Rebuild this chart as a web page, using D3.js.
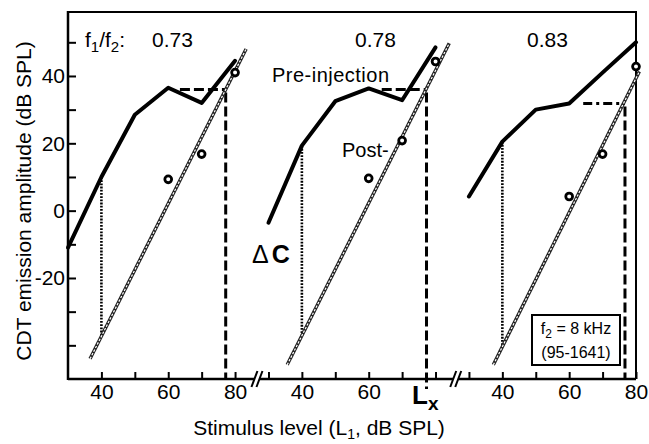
<!DOCTYPE html>
<html><head><meta charset="utf-8">
<script src="https://cdn.jsdelivr.net/npm/d3@7/dist/d3.min.js"></script>
<style>
html,body{margin:0;padding:0;background:#fff;}
svg{display:block;font-family:"Liberation Sans",Arial,Helvetica,sans-serif;}
</style></head>
<body><svg id="chart" width="649" height="444"></svg>
<script>
// ---- data ----
const ratioLabels = ["0.73", "0.78", "0.83"];
const stimulusLevels = [30, 40, 50, 60, 70, 80];
const preInjection1 = [-11, 10, 28.5, 36.5, 32, 44.5];
const preInjection2 = [-3.6, 19.3, 32.5, 36.3, 32.8, 48.5];
const preInjection3 = [4.2, 20.5, 30, 31.8, 41, 50];
const postLevels = [60, 70, 80];
const postInjection1 = [9.3, 16.8, 41];
const postInjection2 = [9.6, 20.8, 44.3];
const postInjection3 = [4.2, 16.8, 42.8];
const fitX1 = [36.6, 83.3], fitY1 = [-44, 48];
const fitX2 = [35.6, 84.1], fitY2 = [-45.8, 49.7];
const fitX3 = [37.3, 81], fitY3 = [-45.8, 41.3];
const deltaCLevel = 40;
const criterionLevels = [36, 36, 31.8];
const criterionStart = [63.5, 63.9, 64.2];
const lxValues = [77.2, 77.3, 76.7];
const yTickValues = [-40, -30, -20, -10, 0, 10, 20, 30, 40, 50];
const yTickLabels = [-20, 0, 20, 40];
const xTicks1 = [40, 50, 60, 70, 80], xLabels1 = [40, 60, 80];
const xTicks2 = [30, 40, 50, 60, 70, 80], xLabels2 = [40, 60];
const xTicks3 = [30, 40, 50, 60, 70, 80], xLabels3 = [40, 60, 80];
const panelOffsets = [0, 60, 120];
const breakPositions = [87, 146.5];

const preSeries = [preInjection1, preInjection2, preInjection3];
const postSeries = [postInjection1, postInjection2, postInjection3];
const fits = [[fitX1, fitY1], [fitX2, fitY2], [fitX3, fitY3]];
const xTicksAll = [xTicks1, xTicks2, xTicks3];
const xLabelsAll = [xLabels1, xLabels2, xLabels3];

// ---- layout ----
const L = 68, R = 636, T = 12, B = 379;
const svg = d3.select("#chart");
const fam = "Liberation Sans, Arial, sans-serif";
const xv = d3.scaleLinear().domain([30, 200]).range([L, R]);
const y = d3.scaleLinear().domain([-50, 59]).range([B, T]);
const xs = panelOffsets.map(o => d3.scaleLinear().domain([30, 80]).range([xv(30 + o), xv(80 + o)]));

// frame top and right
svg.append("path").attr("d", `M${L},${T}H${R}V${B}`).attr("fill", "none").attr("stroke", "#000").attr("stroke-width", 2);

// y axis
const yAxis = d3.axisLeft(y).tickValues(yTickValues).tickSize(-8).tickPadding(3)
  .tickFormat(d => yTickLabels.includes(d) ? String(d) : "");
const gy = svg.append("g").attr("transform", `translate(${L},0)`).call(yAxis);
gy.select(".domain").remove();
gy.selectAll("line").attr("stroke-width", 2);
gy.selectAll("text").attr("font-size", 21).attr("font-family", fam).attr("fill", "#000");
svg.append("line").attr("x1", L).attr("x2", L).attr("y1", T - 1).attr("y2", B + 1).attr("stroke", "#000").attr("stroke-width", 2.5);

// x axes
svg.append("line").attr("x1", L).attr("x2", R).attr("y1", B).attr("y2", B).attr("stroke", "#000").attr("stroke-width", 2.5);
xs.forEach((sc, i) => {
  const ax = d3.axisBottom(sc).tickValues(xTicksAll[i]).tickSize(-7).tickPadding(5)
    .tickFormat(d => xLabelsAll[i].includes(d) ? String(d) : "");
  const g = svg.append("g").attr("transform", `translate(0,${B})`).call(ax);
  g.select(".domain").remove();
  g.selectAll("line").attr("stroke-width", 2);
  g.selectAll("text").attr("font-size", 21).attr("font-family", fam).attr("fill", "#000");
});

// axis breaks
breakPositions.forEach(b => {
  const cx = xv(b);
  svg.append("polygon").attr("points", `${cx-7},${B+8} ${cx-1},${B-8} ${cx+4},${B-8} ${cx-2},${B+8}`).attr("fill", "#fff");
  svg.append("line").attr("x1", cx - 7).attr("y1", B + 8).attr("x2", cx - 1).attr("y2", B - 8).attr("stroke", "#000").attr("stroke-width", 2);
  svg.append("line").attr("x1", cx - 2).attr("y1", B + 8).attr("x2", cx + 4).attr("y2", B - 8).attr("stroke", "#000").attr("stroke-width", 2);
});

const line = d3.line();
xs.forEach((sc, i) => {
  const g = svg.append("g");
  const fx = fits[i][0], fy = fits[i][1];
  const slope = (fy[1] - fy[0]) / (fx[1] - fx[0]);
  const fitAt = v => fy[0] + (v - fx[0]) * slope;
  const preAt40 = preSeries[i][stimulusLevels.indexOf(deltaCLevel)];

  // dotted ΔC vertical
  g.append("path").attr("d", line([[sc(deltaCLevel), y(preAt40)], [sc(deltaCLevel), y(fitAt(deltaCLevel))]]))
    .attr("stroke", "#000").attr("stroke-width", 2.6).attr("stroke-dasharray", "1.8,1.4").attr("fill", "none");

  // criterion dashed
  const lx = lxValues[i];
  g.append("path").attr("d", line([[sc(criterionStart[i]), y(criterionLevels[i])], [sc(lx), y(criterionLevels[i])]]))
    .attr("stroke", "#000").attr("stroke-width", 3).attr("stroke-dasharray", i === 2 ? "9,4,3,4" : "10,4").attr("fill", "none");
  g.append("path").attr("d", line([[sc(lx), y(criterionLevels[i]) + 3], [sc(lx), i === 1 ? y(-53) : y(-50)]]))
    .attr("stroke", "#000").attr("stroke-width", 3).attr("stroke-dasharray", "10,4").attr("fill", "none");

  // regression (post-injection fit) ladder style
  const fitPts = [[sc(fx[0]), y(fy[0])], [sc(fx[1]), y(fy[1])]];
  g.append("path").attr("d", line(fitPts)).attr("stroke", "#222").attr("stroke-width", 3.4).attr("fill", "none");
  g.append("path").attr("d", line(fitPts)).attr("stroke", "#fff").attr("stroke-width", 1.2).attr("stroke-dasharray", "2.4,1.6").attr("fill", "none");

  // pre-injection solid
  g.append("path").attr("d", line(stimulusLevels.map((v, j) => [sc(v), y(preSeries[i][j])])))
    .attr("stroke", "#000").attr("stroke-width", 4).attr("fill", "none").attr("stroke-linejoin", "round").attr("stroke-linecap", "round");

  // post-injection circles
  g.selectAll("circle").data(postLevels).join("circle")
    .attr("cx", v => sc(v)).attr("cy", (v, j) => y(postSeries[i][j])).attr("r", 3.4)
    .attr("fill", "#fff").attr("stroke", "#000").attr("stroke-width", 2.8);
});

// annotations
const t1 = svg.append("text").attr("x", 85).attr("y", 47).attr("font-size", 21).attr("font-family", fam);
t1.append("tspan").text("f");
t1.append("tspan").attr("font-size", 15).attr("dy", 5).text("1");
t1.append("tspan").attr("dy", -5).text("/f");
t1.append("tspan").attr("font-size", 15).attr("dy", 5).text("2");
t1.append("tspan").attr("dy", -5).text(":");
const ratioX = [152, 355, 527];
ratioLabels.forEach((r, i) => svg.append("text").attr("x", ratioX[i]).attr("y", 47).attr("font-size", 21).attr("font-family", fam).text(r));

svg.append("text").attr("x", 272).attr("y", 82).attr("font-size", 20).attr("font-family", fam).attr("textLength", 117).text("Pre-injection");
svg.append("text").attr("x", 342).attr("y", 157).attr("font-size", 20).attr("font-family", fam).text("Post-");

const dc = svg.append("text").attr("x", 252).attr("y", 263).attr("font-size", 25).attr("font-family", fam);
dc.append("tspan").text("Δ");
dc.append("tspan").attr("font-weight", "bold").attr("dx", 3).text("C");

const lxT = svg.append("text").attr("x", 412).attr("y", 404).attr("font-size", 26).attr("font-weight", "bold").attr("font-family", fam);
lxT.append("tspan").text("L");
lxT.append("tspan").attr("font-size", 19).attr("dy", 6).text("x");

// info box
svg.append("rect").attr("x", 532).attr("y", 315).attr("width", 88).attr("height", 50).attr("fill", "#fff").attr("stroke", "#000").attr("stroke-width", 2);
const b1 = svg.append("text").attr("x", 576).attr("y", 334).attr("text-anchor", "middle").attr("font-size", 16).attr("font-family", fam);
b1.append("tspan").text("f");
b1.append("tspan").attr("font-size", 12).attr("dy", 4).text("2");
b1.append("tspan").attr("dy", -4).text(" = 8 kHz");
svg.append("text").attr("x", 576).attr("y", 358).attr("text-anchor", "middle").attr("font-size", 16).attr("font-family", fam).text("(95-1641)");

// axis titles
const xt = svg.append("text").attr("x", 319).attr("y", 435).attr("text-anchor", "middle").attr("font-size", 21).attr("font-family", fam);
xt.append("tspan").text("Stimulus level (L");
xt.append("tspan").attr("font-size", 14).attr("dy", 4).text("1");
xt.append("tspan").attr("dy", -4).text(", dB SPL)");
svg.append("text").attr("transform", "translate(31,201) rotate(-90)").attr("text-anchor", "middle").attr("font-size", 21).attr("font-family", fam)
  .text("CDT emission amplitude (dB SPL)");
</script></body></html>
